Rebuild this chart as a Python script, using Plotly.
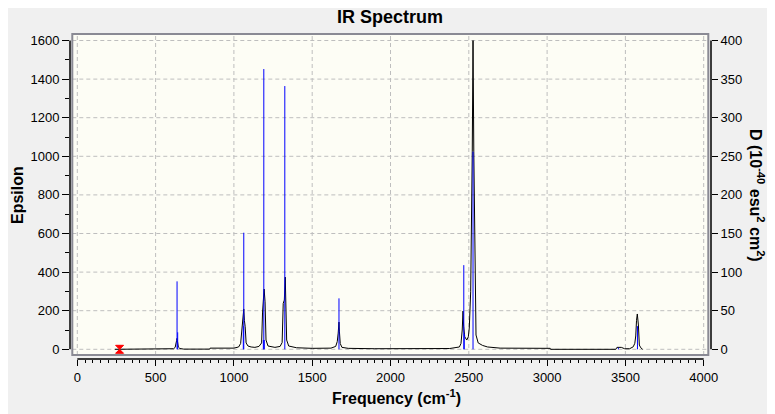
import plotly.graph_objects as go

# Broadened spectrum (black curve): frequency (cm-1) / epsilon
curve_freq = [240, 590, 615, 625, 631, 634, 637, 640, 645, 655, 680, 846, 848, 1000,
              1030, 1043, 1053, 1058, 1063, 1067, 1072, 1078, 1090, 1110, 1134, 1160,
              1177, 1183, 1188, 1193, 1199, 1205, 1218, 1262, 1295, 1308, 1315, 1322,
              1328, 1333, 1337, 1350, 1400, 1500, 1620, 1650, 1660, 1666, 1669, 1671,
              1674, 1679, 1690, 1730, 1900, 2378, 2440, 2450, 2458, 2463, 2467, 2474,
              2487, 2497, 2503, 2512, 2522, 2527, 2532, 2540, 2546, 2560, 2588, 2620,
              2700, 3020, 3022, 3439, 3446, 3474, 3495, 3527, 3550, 3560, 3566, 3571,
              3576, 3583, 3589, 3598, 3610]
curve_eps = [0, 0, 3, 10, 25, 45, 57, 40, 12, 4, 1, 1, 6, 6,
             12, 30, 126, 170, 209, 150, 117, 33, 17, 12, 10, 15,
             33, 193, 246, 312, 246, 48, 17, 10, 15, 35, 238, 255,
             374, 200, 48, 17, 8, 5, 6, 15, 40, 84, 117, 141,
             90, 30, 10, 5, 3, 4, 12, 30, 100, 198, 120, 65,
             48, 65, 110, 298, 1023, 1600, 1023, 298, 74, 33, 20, 12,
             6, 5, 0, 0, 10, 10, 3, 3, 13, 31, 69, 150,
             183, 126, 22, 8, 0]

# Stick spectrum (blue), dipole strength D (10^-40 esu^2 cm^2)
stick_freq = [637, 641, 1060, 1063, 1188, 1191, 1194, 1325, 1671, 2468, 2471, 2527, 3455, 3577]
stick_d = [88, 22, 30, 151, 12, 363, 12, 341, 66, 109, 20, 256, 2, 30]

# Marker on the frequency axis
marker_freq = [270]
marker_eps = [0]

x_ticks = list(range(0, 4001, 500))
y_ticks = list(range(0, 1601, 200))
y2_ticks = list(range(0, 401, 50))

# the page puts the figure 8px in from the top-left corner
OFF = 8
W, H = 775 - OFF, 414 - OFF
L, R, T, B = 70 - OFF, 64, 34 - OFF, 55
pw, ph = W - L - R, H - T - B


def px(x):
    # page pixel -> paper x
    return (x - OFF - L) / pw


def py(y):
    # page pixel -> paper y
    return (H - B - (y - OFF)) / ph


font = "Arial, Liberation Sans, sans-serif"
fig = go.Figure()

sx, sy = [], []
for f, d in zip(stick_freq, stick_d):
    sx += [f, f, None]
    sy += [0, d, None]
fig.add_trace(go.Scatter(x=sx, y=sy, mode='lines', yaxis='y2',
                         line=dict(color='#0000FF', width=1), showlegend=False))

fig.add_trace(go.Scatter(x=curve_freq, y=curve_eps, mode='lines',
                         line=dict(color='black', width=1), showlegend=False))

fig.add_trace(go.Scatter(x=marker_freq, y=marker_eps, mode='markers',
                         marker=dict(symbol='hourglass', size=8, color='#FF0000',
                                     line=dict(color='#FF0000', width=1)),
                         showlegend=False))

shapes = []
# cream frame background
fx0, fx1, fy0, fy1 = px(72.3), px(708.3), py(355), py(34)
shapes.append(dict(type='rect', xref='paper', yref='paper', x0=fx0, x1=fx1, y0=fy0, y1=fy1,
                   fillcolor='#FDFDF5', line=dict(width=0), layer='below'))
# dashed grid inside the frame
for v in x_ticks:
    shapes.append(dict(type='line', xref='x', yref='paper', x0=v, x1=v, y0=fy0, y1=fy1,
                       line=dict(color='#BEBEBE', width=1, dash='4px,3px'), layer='below'))
for v in y_ticks:
    shapes.append(dict(type='line', xref='paper', yref='y', x0=fx0, x1=fx1, y0=v, y1=v,
                       line=dict(color='#BEBEBE', width=1, dash='4px,3px'), layer='below'))
# frame outline
shapes.append(dict(type='rect', xref='paper', yref='paper', x0=fx0, x1=fx1, y0=fy0, y1=fy1,
                   line=dict(color='#8A8A94', width=2), layer='above'))
# detached axis lines
shapes.append(dict(type='line', xref='paper', yref='y', x0=0, x1=0,
                   y0=y_ticks[0], y1=y_ticks[-1], line=dict(color='black', width=1.5)))
shapes.append(dict(type='line', xref='paper', yref='y2', x0=1, x1=1,
                   y0=y2_ticks[0], y1=y2_ticks[-1], line=dict(color='black', width=1.5)))
shapes.append(dict(type='line', xref='x', yref='paper', x0=x_ticks[0], x1=x_ticks[-1],
                   y0=0, y1=0, line=dict(color='black', width=1.5)))

# page pixels of the value scales
scale = (349.3 - 40.5) / 1600
y_lo = -(359 - 349.3) / scale
y_hi = 1600 + (40.5 - 34) / scale
xs = (703.7 - 77.3) / 4000

fig.update_layout(
    width=W, height=H,
    margin=dict(l=L, r=R, t=T, b=B, pad=0),
    paper_bgcolor='#F0F0F0', plot_bgcolor='rgba(0,0,0,0)',
    shapes=shapes,
    xaxis=dict(range=[(70 - 77.3) / xs, (711 - 77.3) / xs],
               tickvals=x_ticks, ticks='outside', ticklen=6, tickwidth=1, tickcolor='black',
               minor=dict(dtick=50, tick0=0, ticks='outside', ticklen=3, tickcolor='black',
                          showgrid=False),
               showgrid=False, zeroline=False, showline=False,
               tickfont=dict(family=font, size=13, color='black')),
    yaxis=dict(range=[y_lo, y_hi], tickvals=y_ticks, ticks='outside', ticklen=7,
               tickwidth=1, tickcolor='black',
               minor=dict(dtick=100, tick0=0, ticks='outside', ticklen=4, tickcolor='black',
                          showgrid=False),
               showgrid=False, zeroline=False, showline=False,
               tickfont=dict(family=font, size=13, color='black')),
    yaxis2=dict(range=[y_lo / 4, y_hi / 4], tickvals=y2_ticks, ticks='outside', ticklen=6,
                tickwidth=1, tickcolor='black', overlaying='y', side='right',
                showgrid=False, zeroline=False, showline=False,
                tickfont=dict(family=font, size=13, color='black')),
    annotations=[
        dict(text='<b>IR Spectrum</b>', xref='paper', yref='paper', x=px(390), y=py(17),
             xanchor='center', yanchor='middle', showarrow=False,
             font=dict(family=font, size=18, color='black')),
        dict(text='<b>Frequency (cm<sup>-1</sup>)</b>', xref='paper', yref='paper',
             x=px(396), y=py(397), xanchor='center', yanchor='middle', showarrow=False,
             font=dict(family=font, size=16, color='black')),
        dict(text='<b>Epsilon</b>', xref='paper', yref='paper', x=px(17), y=py(195),
             xanchor='center', yanchor='middle', textangle=-90, showarrow=False,
             font=dict(family=font, size=16, color='black')),
        dict(text='<b>D (10<sup>-40</sup> esu<sup>2</sup> cm<sup>2</sup>)</b>', xref='paper',
             yref='paper', x=px(757), y=py(195), xanchor='center', yanchor='middle',
             textangle=90, showarrow=False,
             font=dict(family=font, size=16, color='black')),
    ],
)

fig.write_html("out.html")
